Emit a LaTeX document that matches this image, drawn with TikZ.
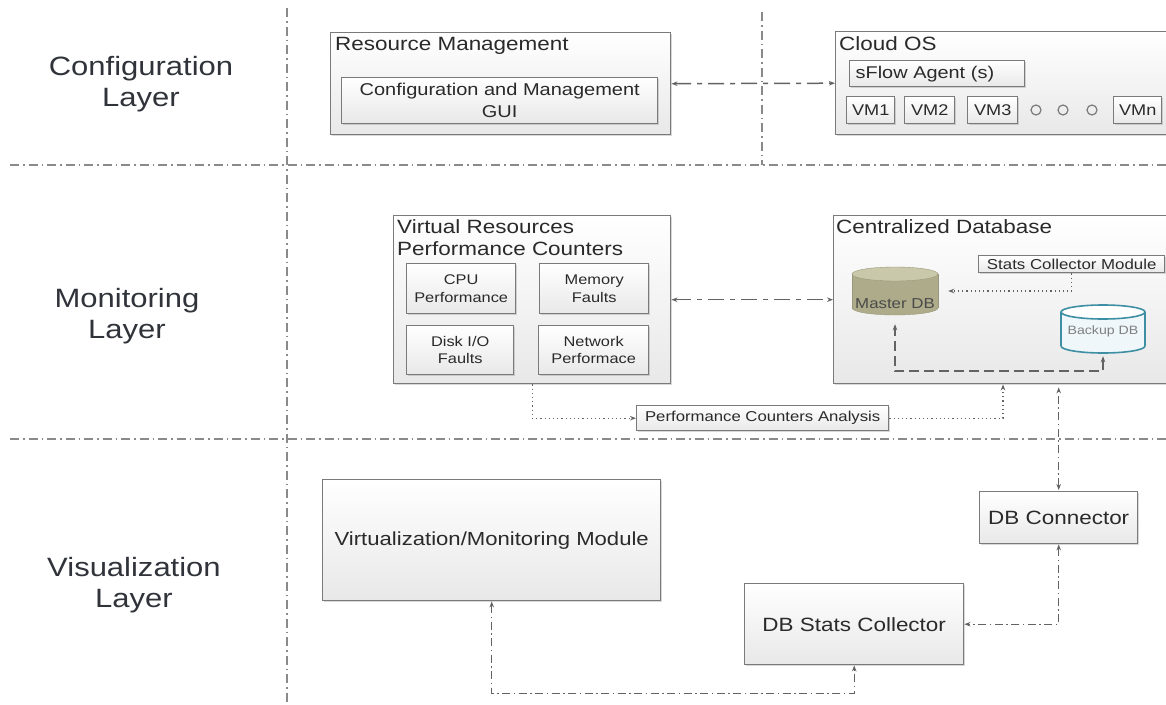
\documentclass[tikz,border=0pt]{standalone}
\usepackage{fontspec}
\setmainfont{Liberation Sans}[FakeStretch=1.17]
\usetikzlibrary{arrows.meta,shadows}

\definecolor{edge}{HTML}{7A7A7A}
\definecolor{ink}{HTML}{2A2A2A}
\definecolor{inklayer}{HTML}{30333A}
\definecolor{wire}{HTML}{636363}
\definecolor{guide}{HTML}{8A8A8A}
\definecolor{dbtop}{HTML}{CAC8AB}
\definecolor{dbbody}{HTML}{ADAB89}
\definecolor{dbedge}{HTML}{9A9878}
\definecolor{bkedge}{HTML}{3E8FA3}
\definecolor{bkfill}{HTML}{EFF7FB}

\tikzset{
  fsz/.style 2 args={font=\fontsize{#1}{#2}\selectfont},
  box/.style={draw=edge, line width=1.4pt, top color=white, bottom color=black!9,
    drop shadow={shadow xshift=1.5pt, shadow yshift=-1.5pt, opacity=0.3},
    inner sep=0pt, anchor=north west, text=ink, align=center},
  title/.style={anchor=base west, inner sep=0pt, text=ink, fsz={19.2}{22}},
  layerlbl/.style={align=center, inner sep=0pt, text=inklayer, fsz={26.5}{31}},
  dotc/.style={circle, draw=edge, line width=1.2pt, minimum size=10pt, inner sep=0pt},
  hold/.style={inner sep=0pt, draw=none},
  >={Stealth[length=6pt,width=4.5pt]},
  longdd/.style={draw=wire, line width=1.5pt, dash pattern=on 16pt off 6pt on 5pt off 6pt},
  dotl/.style={draw=wire, line width=1.2pt, dash pattern=on 1.2pt off 3pt},
  dashl/.style={draw=wire, line width=1.6pt, dash pattern=on 10pt off 5pt},
  dashdot/.style={draw=wire, line width=1.3pt, dash pattern=on 8pt off 3.5pt on 1.5pt off 3.5pt},
  guideline/.style={draw=guide, line width=1.2pt, dash pattern=on 9pt off 4pt on 1.5pt off 4pt},
}

\begin{document}
\begin{tikzpicture}[x=1pt, y=-1pt]
\useasboundingbox (0,0) rectangle (1166,704);
\fill[white] (0,0) rectangle (1166,704);
\clip (0,0) rectangle (1166,704);

% layer separators
\draw[guideline] (10,165) -- (1166,165);
\draw[guideline] (10,439) -- (1166,439);
\draw[guideline] (287,8) -- (287,704);
\draw[guideline] (762,12) -- (762,165);

% layer names
\node[layerlbl] (cfgL) at (141,84) {Configuration\\Layer};
\node[layerlbl] (monL) at (127,316) {Monitoring\\Layer};
\node[layerlbl] (visL) at (134,585) {Visualization\\Layer};

% ---------------- configuration layer
\node[box, minimum width=340pt, minimum height=102pt] (rm) at (330,32) {};
\node[title] (rmT) at (335,50) {Resource Management};
\node[box, minimum width=316pt, minimum height=46pt, fsz={17.1}{22}] (gui) at (341,77)
  {Configuration and Management\\GUI};

\node[box, minimum width=345pt, minimum height=103pt] (cos) at (835,31) {};
\node[title] (cosT) at (839,50) {Cloud OS};
\node[box, text width=163pt, inner xsep=6pt, minimum height=26pt, align=left, fsz={17}{20}] (sflow) at (849,60)
  {sFlow Agent (s)};
\node[box, minimum width=48pt, minimum height=27pt, fsz={15.5}{18}] (vm1) at (846,96) {VM1};
\node[box, minimum width=50pt, minimum height=27pt, fsz={15.5}{18}] (vm2) at (904,96) {VM2};
\node[box, minimum width=50pt, minimum height=27pt, fsz={15.5}{18}] (vm3) at (967,96) {VM3};
\node[dotc] (o1) at (1036,110) {};
\node[dotc] (o2) at (1063,110) {};
\node[dotc] (o3) at (1092,110) {};
\node[box, minimum width=48pt, minimum height=27pt, fsz={15.5}{18}] (vmn) at (1113,96) {VMn};

\draw[longdd, <->] (rm.east) -- (cos.west);

% ---------------- monitoring layer
\node[box, minimum width=277pt, minimum height=168pt] (vrpc) at (393,215) {};
\node[title] (vrpcT1) at (397,233) {Virtual Resources};
\node[title] (vrpcT2) at (397,255) {Performance Counters};
\node[box, minimum width=109pt, minimum height=50pt, fsz={14}{17.5}] (cpu) at (406,263) {CPU\\Performance};
\node[box, minimum width=109pt, minimum height=50pt, fsz={14}{17.5}] (mem) at (539,263) {Memory\\Faults};
\node[box, minimum width=107pt, minimum height=49pt, fsz={14}{17.5}] (disk) at (406,325) {Disk I/O\\Faults};
\node[box, minimum width=110pt, minimum height=49pt, fsz={14}{17.5}] (net) at (538,325) {Network\\Performace};

\node[box, minimum width=345pt, minimum height=168pt] (cdb) at (833,215) {};
\node[title] (cdbT) at (836,233) {Centralized Database};
\node[box, minimum width=186pt, minimum height=17pt, fsz={14.4}{17}] (scm) at (978,255) {Stats Collector Module};

% master database cylinder
\fill[dbbody] (852,274) rectangle (938,308);
\fill[dbbody] (895,308) ellipse [x radius=43pt, y radius=7pt];
\draw[dbedge] (852,274) -- (852,308) (938,274) -- (938,308);
\draw[dbedge] (852,308) arc[start angle=180, end angle=360, x radius=43pt, y radius=7pt];
\filldraw[fill=dbtop, draw=dbedge] (895,274) ellipse [x radius=43pt, y radius=7pt];
\node[hold, minimum width=86pt, minimum height=48pt] (mdb) at (895,291) {};
\node[hold, fsz={14.4}{17}, text=ink!85] (mdbT) at (895,304) {Master DB};

% backup database cylinder
\fill[bkfill] (1061,312) rectangle (1145,346);
\fill[bkfill] (1103,346) ellipse [x radius=42pt, y radius=7pt];
\draw[bkedge, line width=1.6pt] (1061,312) -- (1061,346) (1145,312) -- (1145,346);
\draw[bkedge, line width=1.6pt] (1061,346) arc[start angle=180, end angle=360, x radius=42pt, y radius=7pt];
\filldraw[fill=white, draw=bkedge, line width=1.6pt] (1103,312) ellipse [x radius=42pt, y radius=7pt];
\node[hold, minimum width=84pt, minimum height=48pt] (bdb) at (1103,329) {};
\node[hold, fsz={12.1}{15}, text=black!50] (bdbT) at (1103,331) {Backup DB};

\node[box, minimum width=252pt, minimum height=25pt, fsz={14.3}{17}] (pca) at (636,405) {Performance Counters Analysis};

\draw[longdd, <->] (vrpc.east) -- (cdb.west);
\draw[dotl, ->, shorten >=10pt] (scm.south) |- (mdb.east);
\draw[dashl, <->, shorten <=3pt, shorten >=9pt] (bdb.south) -- ++(0,18) -| (mdb.south);
\draw[dotl, ->] (vrpc.south) |- (pca.west);
\draw[dotl, ->] (pca.east) -| ([xshift=170pt]cdb.south west);

% ---------------- visualization layer
\node[box, minimum width=338pt, minimum height=121pt, fsz={18.9}{22}] (vmm) at (322,479) {Virtualization/Monitoring Module};
\node[box, minimum width=158pt, minimum height=52pt, fsz={19.2}{22}] (dbc) at (979,491) {DB Connector};
\node[box, minimum width=219pt, minimum height=81pt, fsz={19.2}{22}] (dbsc) at (744,583) {DB Stats Collector};

\draw[dashdot, <->, shorten <=1pt, shorten >=3pt] (dbc.north) -- (dbc.north |- cdb.south);
\draw[dashdot, <->] (dbc.south) |- (dbsc.east);
\draw[dashdot, <->] (vmm.south) -- ++(0,92) -| (dbsc.south);
\end{tikzpicture}
\end{document}
